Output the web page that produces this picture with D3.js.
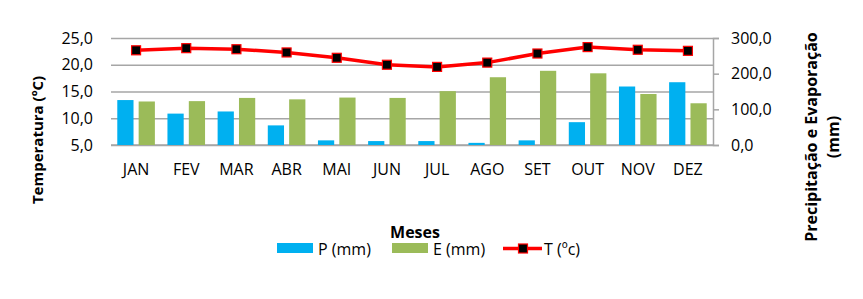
<!DOCTYPE html>
<html>
<head>
<meta charset="utf-8">
<script src="https://cdn.jsdelivr.net/npm/d3@7"></script>
<style>
  body { margin: 0; background: #fff; }
  text { font-family: "Open Sans", "Liberation Sans", sans-serif; fill: #000; }
</style>
</head>
<body>
<div id="chart"></div>
<script>
const months = ['JAN', 'FEV', 'MAR', 'ABR', 'MAI', 'JUN', 'JUL', 'AGO', 'SET', 'OUT', 'NOV', 'DEZ'];
const precip = [126, 88, 94, 55, 13, 11, 11, 6, 13, 64, 164, 176];
const evap = [122, 123, 132, 128, 133, 132, 151, 190, 208, 201, 143, 117];
const temp = [22.7, 23.1, 22.9, 22.3, 21.3, 20.0, 19.6, 20.4, 22.1, 23.3, 22.8, 22.6];
const leftTicks = [5, 10, 15, 20, 25];
const rightTicks = [0, 100, 200, 300];

const width = 863;
const height = 299;
const plotLeft = 111;
const plotRight = 713;
const plotTop = 38;
const plotBottom = 145;

const fmt = (d) => d.toFixed(1).replace('.', ',');

const svg = d3.select('#chart')
    .append('svg')
    .attr('width', width)
    .attr('height', height);

const x = d3.scaleBand()
    .domain(months)
    .range([plotLeft, plotRight]);

const yT = d3.scaleLinear()
    .domain([5, 25])
    .range([plotBottom, plotTop]);

const yP = d3.scaleLinear()
    .domain([0, 300])
    .range([plotBottom, plotTop]);

// gridlines + left labels
const leftAxis = d3.axisLeft(yT)
    .tickValues(leftTicks)
    .tickSize(-(plotRight - plotLeft))
    .tickPadding(18)
    .tickFormat(fmt);

svg.append('g')
    .attr('transform', `translate(${plotLeft},0)`)
    .call(leftAxis)
    .call((g) => g.select('.domain').remove())
    .call((g) => g.selectAll('line').attr('stroke', '#a6a6a6').attr('stroke-width', 1.5))
    .call((g) => g.selectAll('text').attr('font-size', 16));

// right axis
const rightAxis = d3.axisRight(yP)
    .tickValues(rightTicks)
    .tickSize(6)
    .tickPadding(12)
    .tickFormat(fmt);

svg.append('g')
    .attr('transform', `translate(${plotRight},0)`)
    .call(rightAxis)
    .call((g) => g.select('.domain').attr('stroke', '#a6a6a6').attr('stroke-width', 1.5))
    .call((g) => g.selectAll('line').attr('stroke', '#a6a6a6').attr('stroke-width', 1.5))
    .call((g) => g.selectAll('text').attr('font-size', 16));

// bottom axis
const bottomAxis = d3.axisBottom(x)
    .tickSize(0)
    .tickPadding(18.5);

svg.append('g')
    .attr('transform', `translate(0,${plotBottom})`)
    .call(bottomAxis)
    .call((g) => g.select('.domain').remove())
    .call((g) => g.selectAll('text').attr('font-size', 16));

svg.append('line')
    .attr('x1', plotLeft)
    .attr('x2', plotRight)
    .attr('y1', plotBottom)
    .attr('y2', plotBottom)
    .attr('stroke', '#a6a6a6')
    .attr('stroke-width', 1.5);

// bars
const inner = d3.scaleBand()
    .domain(['P', 'E'])
    .range([-18.8, 18.8])
    .paddingInner(0.24);

const series = [
    { key: 'P', values: precip, color: '#00b0f0' },
    { key: 'E', values: evap, color: '#9bbb59' }
];

series.forEach((s) => {
    svg.append('g')
        .selectAll('rect')
        .data(s.values)
        .enter()
            .append('rect')
            .attr('x', (d, i) => x(months[i]) + x.bandwidth() / 2 + inner(s.key))
            .attr('width', inner.bandwidth())
            .attr('y', (d) => yP(d))
            .attr('height', (d) => plotBottom - yP(d))
            .attr('fill', s.color);
});

// temperature line
const line = d3.line()
    .x((d, i) => x(months[i]) + x.bandwidth() / 2)
    .y((d) => yT(d));

svg.append('path')
    .datum(temp)
    .attr('d', line)
    .attr('fill', 'none')
    .attr('stroke', '#ff0000')
    .attr('stroke-width', 3.5);

svg.append('g')
    .selectAll('rect')
    .data(temp)
    .enter()
        .append('rect')
        .attr('x', (d, i) => x(months[i]) + x.bandwidth() / 2 - 4.5)
        .attr('y', (d) => yT(d) - 4.5)
        .attr('width', 9)
        .attr('height', 9)
        .attr('fill', '#000')
        .attr('stroke', '#ff0000')
        .attr('stroke-width', 1.2);

// axis titles
svg.append('text')
    .attr('transform', 'translate(43,140) rotate(-90)')
    .attr('text-anchor', 'middle')
    .attr('font-size', 15)
    .attr('font-weight', 'bold')
    .text('Temperatura (ºC)');

const rt = svg.append('text')
    .attr('transform', 'translate(817,137) rotate(-90)')
    .attr('text-anchor', 'middle')
    .attr('font-size', 16)
    .attr('font-weight', 'bold');
rt.append('tspan').attr('x', 0).attr('dy', 0).text('Precipitação e Evaporação');
rt.append('tspan').attr('x', 0).attr('dy', 21.5).text('(mm)');

svg.append('text')
    .attr('x', 415)
    .attr('y', 238)
    .attr('text-anchor', 'middle')
    .attr('font-size', 16)
    .attr('font-weight', 'bold')
    .text('Meses');

// legend
const legend = svg.append('g');

legend.append('rect').attr('x', 277).attr('y', 243).attr('width', 36).attr('height', 10).attr('fill', '#00b0f0');
legend.append('text').attr('x', 318).attr('y', 254.5).attr('font-size', 16).text('P (mm)');

legend.append('rect').attr('x', 392).attr('y', 243).attr('width', 36).attr('height', 10).attr('fill', '#9bbb59');
legend.append('text').attr('x', 433).attr('y', 254.5).attr('font-size', 16).text('E (mm)');

legend.append('line').attr('x1', 503).attr('x2', 542).attr('y1', 248.5).attr('y2', 248.5)
    .attr('stroke', '#ff0000').attr('stroke-width', 3.5);
legend.append('rect').attr('x', 518.5).attr('y', 244).attr('width', 9).attr('height', 9)
    .attr('fill', '#000').attr('stroke', '#ff0000').attr('stroke-width', 1.2);
legend.append('text').attr('x', 544).attr('y', 254.5).attr('font-size', 16).text('T (ºc)');
</script>
</body>
</html>
